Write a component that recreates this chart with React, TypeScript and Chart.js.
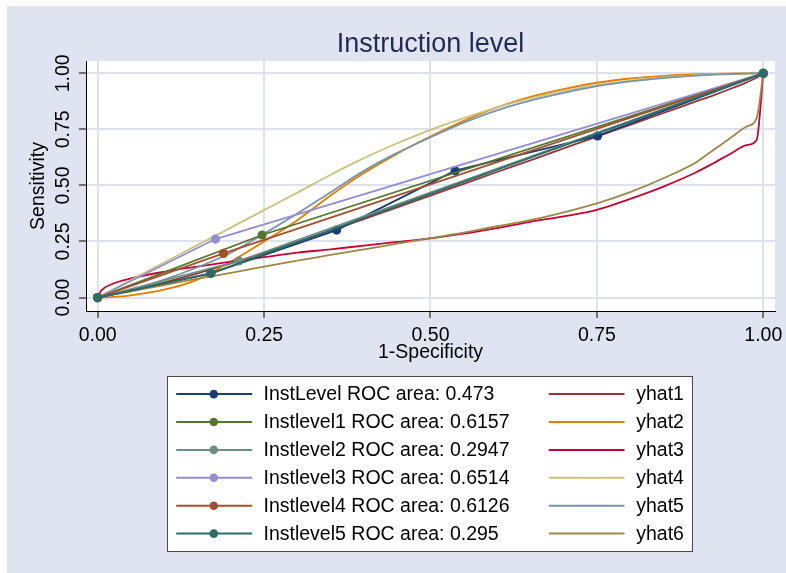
import React, { useEffect, useRef } from 'react';
import { Chart, registerables } from 'chart.js';

Chart.register(...registerables);

const FONT = "'Liberation Sans', Arial, Helvetica, sans-serif";
const BG = 'rgb(224,228,240)';
const GRID = 'rgb(222,226,238)';

const titleText = 'Instruction level';
const xTitle = '1-Specificity';
const yTitle = 'Sensitivity';
const tickValues = [0, 0.25, 0.5, 0.75, 1];

// Empirical ROC curves
const rocNames = ['InstLevel', 'Instlevel1', 'Instlevel2', 'Instlevel3', 'Instlevel4', 'Instlevel5'];
const rocAreas = ['0.473', '0.6157', '0.2947', '0.6514', '0.6126', '0.295'];
const rocColors = ['rgb(26,61,115)', 'rgb(85,117,47)', 'rgb(110,142,132)', 'rgb(147,141,210)', 'rgb(160,82,45)', 'rgb(45,109,102)'];

const instLevelX = [0, 0.17, 0.359, 0.537, 0.751, 1];
const instLevelY = [0, 0.108, 0.301, 0.566, 0.721, 1];
const instlevel1X = [0, 0.247, 1];
const instlevel1Y = [0, 0.279, 1];
const instlevel2X = [0, 0.212, 1];
const instlevel2Y = [0, 0.163, 1];
const instlevel3X = [0, 0.177, 1];
const instlevel3Y = [0, 0.261, 1];
const instlevel4X = [0, 0.189, 1];
const instlevel4Y = [0, 0.197, 1];
const instlevel5X = [0, 0.17, 1];
const instlevel5Y = [0, 0.108, 1];

// Fitted curves
const fitNames = ['yhat1', 'yhat2', 'yhat3', 'yhat4', 'yhat5', 'yhat6'];
const fitColors = ['rgb(144,53,59)', 'rgb(227,126,0)', 'rgb(193,5,52)', 'rgb(202,194,126)', 'rgb(123,146,168)', 'rgb(156,136,71)'];
const fitX = [0, 0.005, 0.02, 0.05, 0.1, 0.15, 0.2, 0.25, 0.3, 0.35, 0.4, 0.45, 0.5, 0.55, 0.6, 0.65, 0.7, 0.75, 0.8, 0.85, 0.9, 0.925, 0.95, 0.975, 0.99, 1];
const yhat1 = [0, 0.003, 0.012, 0.032, 0.068, 0.108, 0.152, 0.199, 0.248, 0.298, 0.35, 0.402, 0.455, 0.507, 0.56, 0.612, 0.665, 0.718, 0.77, 0.823, 0.876, 0.902, 0.93, 0.96, 0.98, 1];
const yhat2 = [0, 0, 0.002, 0.01, 0.035, 0.08, 0.16, 0.25, 0.345, 0.455, 0.555, 0.642, 0.718, 0.788, 0.848, 0.895, 0.93, 0.958, 0.977, 0.989, 0.996, 0.998, 0.999, 1, 1, 1];
const yhat3 = [0, 0.03, 0.058, 0.085, 0.115, 0.138, 0.16, 0.18, 0.2, 0.215, 0.232, 0.248, 0.264, 0.285, 0.31, 0.338, 0.362, 0.391, 0.44, 0.495, 0.56, 0.599, 0.64, 0.68, 0.703, 1];
const yhat4 = [0, 0.008, 0.031, 0.078, 0.156, 0.234, 0.312, 0.39, 0.468, 0.548, 0.622, 0.688, 0.748, 0.8, 0.848, 0.888, 0.92, 0.947, 0.967, 0.982, 0.992, 0.996, 0.998, 1, 1, 1];
const yhat5 = [0, 0.003, 0.012, 0.035, 0.08, 0.135, 0.2, 0.285, 0.375, 0.47, 0.565, 0.645, 0.715, 0.78, 0.835, 0.878, 0.913, 0.943, 0.964, 0.979, 0.99, 0.994, 0.997, 0.999, 1, 1];
const yhat6 = [0, 0.003, 0.012, 0.028, 0.056, 0.084, 0.11, 0.138, 0.165, 0.19, 0.215, 0.24, 0.265, 0.29, 0.318, 0.345, 0.38, 0.42, 0.47, 0.532, 0.605, 0.658, 0.71, 0.763, 0.8, 1];

const rocXs = [instLevelX, instlevel1X, instlevel2X, instlevel3X, instlevel4X, instlevel5X];
const rocYs = [instLevelY, instlevel1Y, instlevel2Y, instlevel3Y, instlevel4Y, instlevel5Y];
const fitYs = [yhat1, yhat2, yhat3, yhat4, yhat5, yhat6];

const zip = (xs: number[], ys: number[]) => xs.map((x, i) => ({ x, y: ys[i] }));

const plotBgPlugin = {
  id: 'plotBg',
  beforeDraw(chart: any) {
    const { ctx, chartArea: a } = chart;
    ctx.save();
    ctx.fillStyle = '#ffffff';
    ctx.fillRect(a.left, a.top, a.right - a.left, a.bottom - a.top);
    ctx.restore();
  },
};

const titlePlugin = {
  id: 'centeredTitle',
  afterDraw(chart: any) {
    const { ctx, chartArea: a } = chart;
    ctx.save();
    ctx.font = `27px ${FONT}`;
    ctx.fillStyle = 'rgb(30,43,85)';
    ctx.textAlign = 'center';
    ctx.textBaseline = 'middle';
    ctx.fillText(titleText, (a.left + a.right) / 2, a.top - 16.6);
    ctx.restore();
  },
};

const legendPlugin = {
  id: 'stataLegend',
  afterDraw(chart: any) {
    const { ctx, chartArea: a } = chart;
    const boxW = 525;
    const boxH = 175;
    const left = Math.round((a.left + a.right) / 2 - boxW / 2) - 0.5;
    const top = Math.round(a.bottom + 65) + 0.5;
    ctx.save();
    ctx.fillStyle = '#ffffff';
    ctx.fillRect(left, top, boxW, boxH);
    ctx.strokeStyle = '#4a4a4a';
    ctx.lineWidth = 1;
    ctx.strokeRect(left, top, boxW, boxH);
    ctx.font = `19.5px ${FONT}`;
    ctx.textBaseline = 'middle';
    ctx.textAlign = 'left';
    for (let i = 0; i < 6; i++) {
      const y = top + 17.6 + i * 27.9;
      ctx.strokeStyle = rocColors[i];
      ctx.lineWidth = 2;
      ctx.beginPath();
      ctx.moveTo(left + 8.7, y);
      ctx.lineTo(left + 84.7, y);
      ctx.stroke();
      ctx.fillStyle = rocColors[i];
      ctx.beginPath();
      ctx.arc(left + 46.3, y, 4.3, 0, Math.PI * 2);
      ctx.fill();
      ctx.fillStyle = '#000';
      ctx.fillText(`${rocNames[i]} ROC area: ${rocAreas[i]}`, left + 96, y + 1);
      ctx.strokeStyle = fitColors[i];
      ctx.beginPath();
      ctx.moveTo(left + 381.3, y);
      ctx.lineTo(left + 457, y);
      ctx.stroke();
      ctx.fillStyle = '#000';
      ctx.fillText(fitNames[i], left + 468.7, y + 1);
    }
    ctx.restore();
  },
};

export default function App() {
  const ref = useRef<HTMLCanvasElement | null>(null);

  useEffect(() => {
    if (!ref.current) return;
    const datasets: any[] = [];
    fitNames.forEach((name, i) => {
      datasets.push({
        label: name,
        data: zip(fitX, fitYs[i]),
        borderColor: fitColors[i],
        backgroundColor: fitColors[i],
        borderWidth: 1.8,
        pointRadius: 0,
        cubicInterpolationMode: 'monotone',
        fill: false,
        order: 11 - i,
      });
    });
    rocNames.forEach((name, i) => {
      datasets.push({
        label: `${name} ROC area: ${rocAreas[i]}`,
        data: zip(rocXs[i], rocYs[i]),
        borderColor: rocColors[i],
        backgroundColor: rocColors[i],
        pointBackgroundColor: rocColors[i],
        pointBorderWidth: 0,
        pointRadius: 4.6,
        borderWidth: 1.8,
        tension: 0,
        fill: false,
        order: 5 - i,
      });
    });

    const tickFont = { family: FONT, size: 19.5 };
    const chart = new Chart(ref.current, {
      type: 'line',
      data: { datasets },
      options: {
        animation: false,
        responsive: false,
        events: [],
        layout: { padding: { left: 0, right: 11, top: 55, bottom: 200 } },
        plugins: {
          legend: { display: false },
          tooltip: { enabled: false },
          title: { display: false },
        },
        scales: {
          x: {
            type: 'linear',
            min: -0.0176,
            max: 1.0176,
            afterBuildTicks: (s: any) => {
              s.ticks = tickValues.map((v) => ({ value: v }));
            },
            afterFit: (s: any) => {
              s.height = 62;
              s.paddingLeft = 0;
              s.paddingRight = 0;
            },
            ticks: {
              callback: (v: any) => Number(v).toFixed(2),
              font: tickFont,
              color: '#000',
              padding: 6,
              maxRotation: 0,
              autoSkip: false,
            },
            grid: { color: GRID, lineWidth: 2, tickColor: '#000', tickLength: 7, tickWidth: 1 },
            border: { display: true, color: '#000', width: 1 },
            title: { display: true, text: xTitle, font: tickFont, color: '#000', padding: { top: 0, bottom: 8.6 } },
          },
          y: {
            type: 'linear',
            min: -0.06,
            max: 1.055,
            afterBuildTicks: (s: any) => {
              s.ticks = tickValues.map((v) => ({ value: v }));
            },
            afterFit: (s: any) => {
              s.width = 79;
              s.paddingTop = 0;
              s.paddingBottom = 0;
            },
            ticks: {
              callback: (v: any) => Number(v).toFixed(2),
              font: tickFont,
              color: '#000',
              padding: -3.5,
              minRotation: 90,
              maxRotation: 90,
              crossAlign: 'center',
              autoSkip: false,
            },
            grid: { color: GRID, lineWidth: 2, tickColor: '#000', tickLength: 7, tickWidth: 1 },
            border: { display: true, color: '#000', width: 1 },
            title: { display: true, text: yTitle, font: tickFont, color: '#000', padding: { top: 20, bottom: 0 } },
          },
        },
      } as any,
      plugins: [plotBgPlugin, titlePlugin, legendPlugin],
    });
    return () => chart.destroy();
  }, []);

  return (
    <div style={{ position: 'absolute', left: 0, top: 0, width: 786, height: 573, background: '#fff' }}>
      <div style={{ position: 'absolute', left: 7, top: 6, width: 779, height: 567, background: BG }}>
        <canvas ref={ref} width={779} height={567} style={{ display: 'block' }} />
      </div>
    </div>
  );
}
